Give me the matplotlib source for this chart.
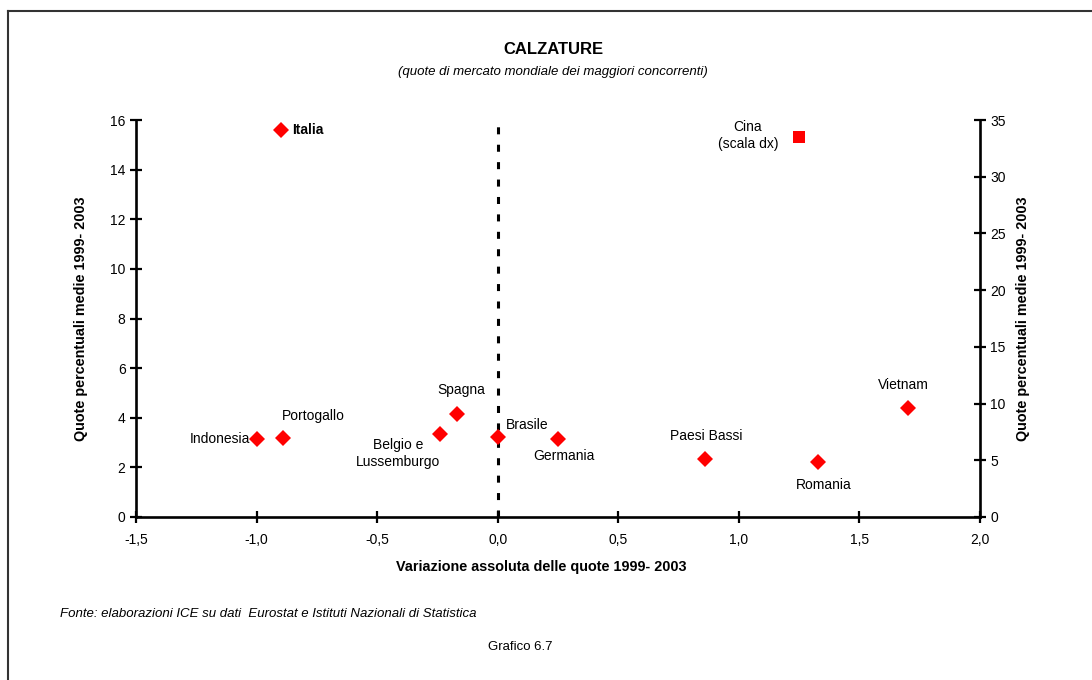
import matplotlib.pyplot as plt
from matplotlib.ticker import FuncFormatter, MultipleLocator
from matplotlib.lines import Line2D

plt.rcParams['font.family'] = ['Liberation Sans', 'DejaVu Sans']

# paesi sulla scala sinistra
paesi = ['Italia', 'Indonesia', 'Portogallo', 'Belgio e\nLussemburgo', 'Spagna',
         'Brasile', 'Germania', 'Paesi Bassi', 'Romania', 'Vietnam']
variazione = [-0.90, -1.00, -0.89, -0.24, -0.17, 0.00, 0.25, 0.86, 1.33, 1.70]
quote = [15.6, 3.14, 3.18, 3.35, 4.15, 3.22, 3.14, 2.32, 2.23, 4.38]
# offset delle etichette (punti)
label_off = [(8, 0), (-5, 0), (22, 16), (-30, -14), (3, 17),
             (21, 9), (4, -12), (1, 17), (4, -17), (-3, 17)]
label_ha = ['left', 'right', 'center', 'center', 'center',
            'center', 'center', 'center', 'center', 'center']

# Cina sulla scala destra
cina_x = [1.25]
cina_y = [33.5]

fmt = lambda v, p: f"{v:.1f}".replace('.', ',')

fig = plt.figure(figsize=(10.92, 6.8), dpi=100)
ax = fig.add_axes([136 / 1092, 163 / 680, 844 / 1092, 397 / 680])
ax2 = ax.twinx()

ax.plot(variazione, quote, linestyle='none', marker='D', ms=8, color='#ff0000',
        markeredgewidth=0, zorder=5)
ax2.plot(cina_x, cina_y, linestyle='none', marker='s', ms=8, color='#ff0000',
         markeredgewidth=0, zorder=5)

for nome, x, y, off, ha in zip(paesi, variazione, quote, label_off, label_ha):
    ax.annotate(nome, (x, y), xytext=off, textcoords='offset points', ha=ha, va='center',
                fontsize=10, fontweight='bold' if nome == 'Italia' else 'normal',
                linespacing=1.25)
ax2.annotate('Cina\n(scala dx)', (cina_x[0], cina_y[0]), xytext=(-37, 1),
             textcoords='offset points', ha='center', va='center', fontsize=10,
             linespacing=1.25)

ax.axvline(0, ymin=0, ymax=0.995, color='black', lw=2.2, dashes=(2.3, 3.4), zorder=3)

ax.set_xlim(-1.5, 2.0)
ax.set_ylim(0, 16)
ax2.set_ylim(0, 35)
ax.xaxis.set_major_locator(MultipleLocator(0.5))
ax.xaxis.set_major_formatter(FuncFormatter(fmt))
ax.yaxis.set_major_locator(MultipleLocator(2))
ax2.yaxis.set_major_locator(MultipleLocator(5))

for a in (ax, ax2):
    a.spines['top'].set_visible(False)
    for s in ('left', 'right', 'bottom'):
        a.spines[s].set_linewidth(1.9)
    a.tick_params(direction='inout', length=9, width=1.6, labelsize=10, pad=3)
ax.tick_params(axis='x', pad=7)
ax.spines['right'].set_visible(False)
ax2.spines['left'].set_visible(False)
ax2.spines['bottom'].set_visible(False)

ax.set_xlabel('Variazione assoluta delle quote 1999- 2003', fontsize=10.4,
              fontweight='bold')
ax.xaxis.set_label_coords(0.48, -0.108)
ax.set_ylabel('Quote percentuali medie 1999- 2003', fontsize=10.4,
              fontweight='bold', labelpad=16)
ax2.set_ylabel('Quote percentuali medie 1999- 2003', fontsize=10.4,
               fontweight='bold', labelpad=7)

fig.text(553 / 1092, 1 - 50 / 680, 'CALZATURE', ha='center', va='center',
         fontsize=12, fontweight='bold')
fig.text(553 / 1092, 1 - 72 / 680, '(quote di mercato mondiale dei maggiori concorrenti)',
         ha='center', va='center', fontsize=9.5, style='italic')
fig.text(60 / 1092, 1 - 614 / 680,
         'Fonte: elaborazioni ICE su dati  Eurostat e Istituti Nazionali di Statistica',
         ha='left', va='center', fontsize=9.5, style='italic')
fig.text(520 / 1092, 1 - 647 / 680, 'Grafico 6.7', ha='center', va='center', fontsize=9.5)

# cornice
fig.add_artist(Line2D([8 / 1092, 1], [1 - 11 / 680, 1 - 11 / 680], color='#333333', lw=1.5))
fig.add_artist(Line2D([8 / 1092, 8 / 1092], [0, 1 - 11 / 680], color='#333333', lw=1.5))

fig.savefig('out.png', dpi=100)
